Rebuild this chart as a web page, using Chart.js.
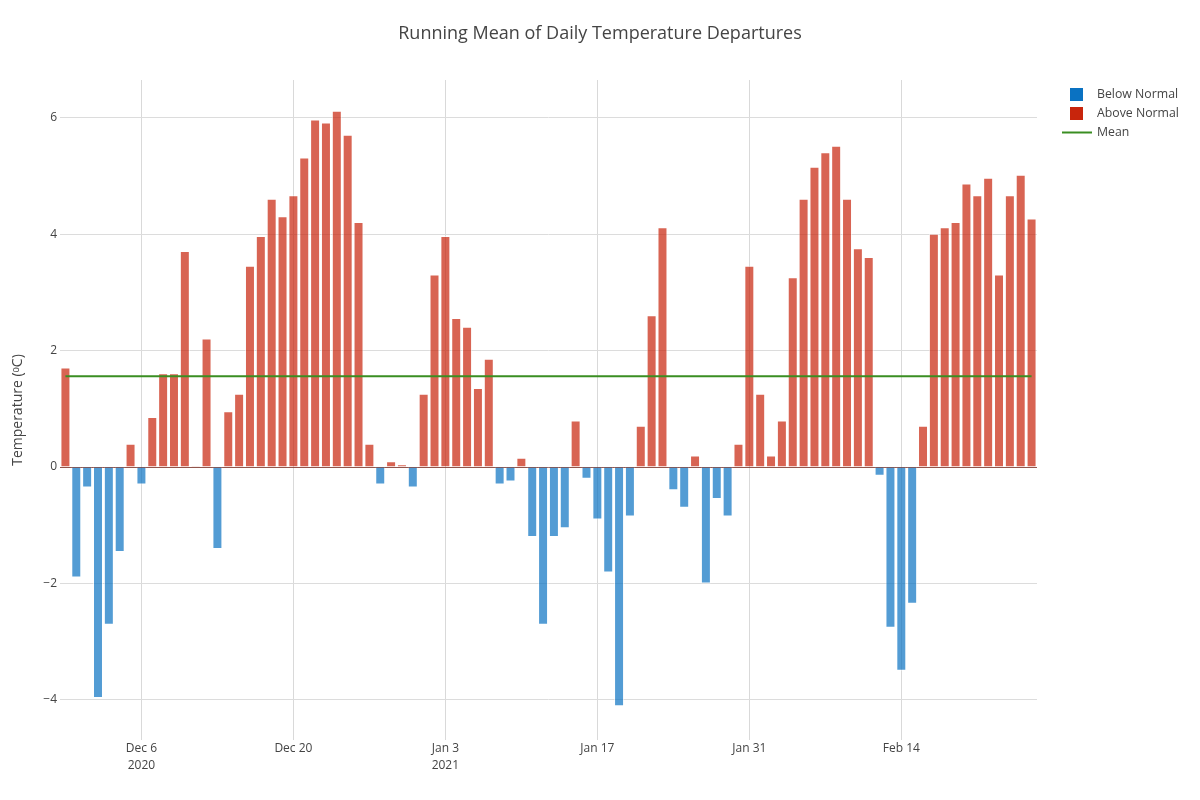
<!DOCTYPE html>
<html>
<head>
<meta charset="utf-8">
<title>Running Mean of Daily Temperature Departures</title>
<script src="https://cdn.jsdelivr.net/npm/chart.js@4.4.1/dist/chart.umd.min.js"></script>
<style>
  html, body { margin: 0; padding: 0; background: #fff; }
  #wrap { width: 1200px; height: 800px; position: relative; }
</style>
</head>
<body>
<div id="wrap"><canvas id="myChart"></canvas></div>
<script>
// days Nov 29 2020 .. Feb 26 2021, one bar per day
var monthSpans = [['Nov', 29, 30], ['Dec', 1, 31], ['Jan', 1, 31], ['Feb', 1, 26]];
var days = [];
monthSpans.forEach(function (m) {
  for (var d = m[1]; d <= m[2]; d++) days.push(m[0] + ' ' + d);
});

// running mean departure (oC)
var departures = [
  1.71, -1.90, -0.35, -3.97, -2.71, -1.46, 0.40, -0.30, 0.86, 1.61,
  1.61, 3.71, 0.02, 2.21, -1.41, 0.96, 1.26, 3.46, 3.97, 4.61,
  4.31, 4.67, 5.32, 5.97, 5.92, 6.12, 5.71, 4.21, 0.40, -0.30,
  0.10, 0.05, -0.35, 1.26, 3.31, 3.97, 2.56, 2.41, 1.36, 1.86,
  -0.30, -0.25, 0.16, -1.20, -2.71, -1.20, -1.05, 0.80, -0.20, -0.90,
  -1.81, -4.11, -0.85, 0.71, 2.61, 4.12, -0.40, -0.70, 0.20, -2.00,
  -0.55, -0.85, 0.40, 3.46, 1.26, 0.20, 0.80, 3.26, 4.61, 5.16,
  5.41, 5.52, 4.61, 3.76, 3.61, -0.15, -2.76, -3.50, -2.35, 0.71,
  4.01, 4.12, 4.21, 4.87, 4.67, 4.97, 3.31, 4.67, 5.02, 4.27
];
var meanValue = 1.56;

var tickDays = ['Dec 6', 'Dec 20', 'Jan 3', 'Jan 17', 'Jan 31', 'Feb 14'];
var tickYears = { 'Dec 6': '2020', 'Jan 3': '2021' };
var yTicks = [-4, -2, 0, 2, 4, 6];

var below = departures.map(function (v) { return v < 0 ? v : null; });
var above = departures.map(function (v) { return v >= 0 ? v : null; });
var meanLine = days.map(function () { return meanValue; });

var legendColors = ['#0a72c2', '#c8250c', '#3a8e22'];

Chart.defaults.font.family = '"Open Sans", verdana, arial, sans-serif';
Chart.defaults.color = '#444';

// plotly-ish legend in the right margin
var sideLegend = {
  id: 'sideLegend',
  afterDraw: function (chart) {
    var ctx = chart.ctx;
    var ds = chart.data.datasets;
    var rows = [ds[1], ds[2], ds[0]];
    ctx.save();
    ctx.font = '12.3px "Open Sans", verdana, arial, sans-serif';
    ctx.textBaseline = 'middle';
    rows.forEach(function (d, i) {
      var y = 94.5 + i * 19;
      if (d.type === 'line') {
        ctx.strokeStyle = legendColors[i];
        ctx.lineWidth = 2;
        ctx.beginPath();
        ctx.moveTo(1062, y);
        ctx.lineTo(1092, y);
        ctx.stroke();
      } else {
        ctx.fillStyle = legendColors[i];
        ctx.fillRect(1070, y - 6.5, 13, 13);
      }
      ctx.fillStyle = '#444';
      ctx.fillText(d.label, 1097, y);
    });
    ctx.restore();
  }
};

var ctx = document.getElementById('myChart').getContext('2d');
var chart = new Chart(ctx, {
  data: {
    labels: days,
    datasets: [{
      type: 'line',
      label: 'Mean',
      data: meanLine,
      borderColor: '#3a8e22',
      borderWidth: 2,
      pointRadius: 0,
      fill: false,
      order: 0
    }, {
      type: 'bar',
      label: 'Below Normal',
      data: below,
      backgroundColor: 'rgba(10,114,194,0.7)',
      borderColor: 'rgba(255,255,255,0.55)',
      borderWidth: 1,
      grouped: false,
      barPercentage: 0.92,
      categoryPercentage: 1,
      order: 1
    }, {
      type: 'bar',
      label: 'Above Normal',
      data: above,
      backgroundColor: 'rgba(200,37,12,0.71)',
      borderColor: 'rgba(255,255,255,0.55)',
      borderWidth: 1,
      grouped: false,
      barPercentage: 0.92,
      categoryPercentage: 1,
      order: 2
    }]
  },
  options: {
    responsive: true,
    maintainAspectRatio: false,
    animation: false,
    layout: { padding: 0 },
    plugins: {
      legend: { display: false },
      tooltip: { enabled: false },
      title: {
        display: true,
        text: 'Running Mean of Daily Temperature Departures',
        color: '#444',
        font: { size: 18, weight: 'normal' },
        padding: { top: 23, bottom: 35.4 }
      }
    },
    scales: {
      x: {
        offset: true,
        afterFit: function (scale) { scale.height = 60; },
        border: { display: false },
        grid: {
          offset: false,
          drawTicks: false,
          color: '#d9d9d9'
        },
        ticks: {
          autoSkip: false,
          maxRotation: 0,
          padding: 0,
          color: '#444',
          font: { size: 12, lineHeight: 1.4 },
          callback: function (value, index) {
            var lab = days[index];
            if (tickDays.indexOf(lab) < 0) return null;
            return tickYears[lab] ? [lab, tickYears[lab]] : lab;
          }
        }
      },
      y: {
        min: -4.69,
        max: 6.65,
        afterFit: function (scale) { scale.width = 60; },
        afterBuildTicks: function (scale) {
          scale.ticks = yTicks.map(function (v) { return { value: v }; });
        },
        border: { display: false },
        grid: {
          drawTicks: false,
          color: function (c) { return c.tick && c.tick.value === 0 ? 'rgba(125,55,45,0.85)' : '#dcdcdc'; }
        },
        title: {
          display: true,
          text: 'Temperature (\u1D52C)',
          color: '#444',
          font: { size: 14 },
          padding: { top: 10, bottom: 0 }
        },
        ticks: {
          padding: 3,
          color: '#444',
          font: { size: 12 },
          callback: function (v) { return v < 0 ? '\u2212' + Math.abs(v) : String(v); }
        }
      },
      // empty right margin that holds the legend, keeps the title centred on the page
      legendSpace: {
        type: 'linear',
        position: 'right',
        afterFit: function (scale) { scale.width = 163; },
        border: { display: false },
        grid: { display: false, drawOnChartArea: false },
        ticks: { display: false }
      }
    }
  },
  plugins: [sideLegend]
});
</script>
</body>
</html>
